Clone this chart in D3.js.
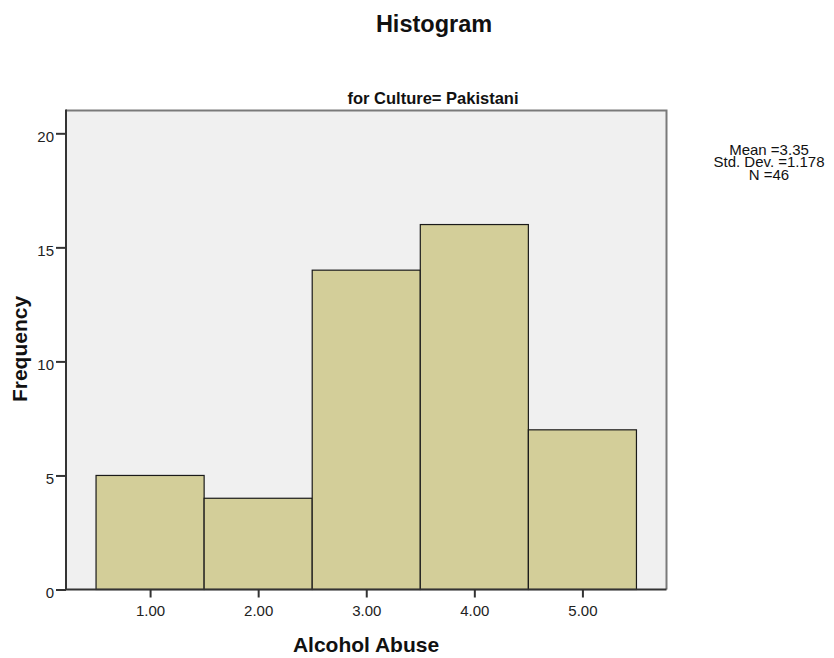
<!DOCTYPE html>
<html>
<head>
<meta charset="utf-8">
<script src="https://cdn.jsdelivr.net/npm/d3@7/dist/d3.min.js"></script>
<style>
  html, body { margin: 0; padding: 0; background: #ffffff; }
  svg { display: block; font-family: "Liberation Sans", Arial, sans-serif; }
</style>
</head>
<body>
<svg id="chart" width="834" height="658"></svg>
<script>
// Histogram of Alcohol Abuse scores, Culture = Pakistani
const binCenters = [1, 2, 3, 4, 5];
const frequencies = [5, 4, 14, 16, 7];
const xTickValues = [1, 2, 3, 4, 5];
const xTickLabels = ["1.00", "2.00", "3.00", "4.00", "5.00"];
const yTickValues = [0, 5, 10, 15, 20];
const statLines = ["Mean =3.35", "Std. Dev. =1.178", "N =46"];

const FONT = "'Liberation Sans', Arial, sans-serif";
const svg = d3.select("#chart");
const plot = { left: 66, right: 666.5, top: 110.5, bottom: 589.5 };

const x = d3.scaleLinear().domain([0.222, 5.778]).range([plot.left, plot.right]);
const y = d3.scaleLinear().domain([0, 21]).range([plot.bottom, plot.top]);

// plot background
svg.append("rect")
  .attr("x", plot.left).attr("y", plot.top)
  .attr("width", plot.right - plot.left).attr("height", plot.bottom - plot.top)
  .attr("fill", "#f0f0f0");

// bars
svg.append("g").selectAll("rect")
  .data(binCenters.map((c, i) => ({ c, f: frequencies[i] })))
  .join("rect")
  .attr("x", d => x(d.c - 0.5))
  .attr("y", d => y(d.f))
  .attr("width", d => x(d.c + 0.5) - x(d.c - 0.5))
  .attr("height", d => y(0) - y(d.f))
  .attr("fill", "#d3ce99")
  .attr("stroke", "#1a1a1a")
  .attr("stroke-width", 1.2);

// top and right frame
svg.append("path")
  .attr("d", `M${plot.left},${plot.top}H${plot.right}V${plot.bottom}`)
  .attr("fill", "none")
  .attr("stroke", "#7a7a7a")
  .attr("stroke-width", 2);

// axes
const xAxis = d3.axisBottom(x)
  .tickValues(xTickValues)
  .tickFormat((d, i) => xTickLabels[i])
  .tickSize(8);
const yAxis = d3.axisLeft(y)
  .tickValues(yTickValues)
  .tickFormat(d3.format("d"))
  .tickSize(10);

const gx = svg.append("g").attr("transform", `translate(0,${plot.bottom})`).call(xAxis);
gx.select(".domain").attr("d", `M${plot.left},0H${plot.right}`).attr("stroke", "#333").attr("stroke-width", 2);
gx.selectAll(".tick line").attr("stroke", "#333").attr("stroke-width", 2);
gx.selectAll(".tick text")
  .attr("y", 26).attr("dy", 0)
  .attr("font-size", 15).attr("fill", "#222").attr("font-family", FONT);

const gy = svg.append("g").attr("transform", `translate(${plot.left},0)`).call(yAxis);
gy.select(".domain").attr("d", `M0,${plot.bottom}V${plot.top - 1}`).attr("stroke", "#333").attr("stroke-width", 2);
gy.selectAll(".tick line").attr("stroke", "#333").attr("stroke-width", 2);
gy.selectAll(".tick text")
  .attr("x", -12).attr("y", 8).attr("dy", 0)
  .attr("font-size", 15).attr("fill", "#222").attr("font-family", FONT);

// titles
svg.append("text")
  .attr("x", 434).attr("y", 31.5)
  .attr("text-anchor", "middle")
  .attr("font-size", 23.5).attr("font-weight", "bold").attr("fill", "#111")
  .text("Histogram");

svg.append("text")
  .attr("x", 433).attr("y", 104)
  .attr("text-anchor", "middle")
  .attr("font-size", 16.5).attr("font-weight", "bold").attr("fill", "#111")
  .text("for Culture= Pakistani");

svg.append("text")
  .attr("x", 366).attr("y", 652)
  .attr("text-anchor", "middle")
  .attr("font-size", 21).attr("font-weight", "bold").attr("fill", "#111")
  .text("Alcohol Abuse");

svg.append("text")
  .attr("transform", `translate(27,349) rotate(-90)`)
  .attr("text-anchor", "middle")
  .attr("font-size", 21).attr("font-weight", "bold").attr("fill", "#111")
  .text("Frequency");

// summary statistics
svg.append("g").selectAll("text")
  .data(statLines)
  .join("text")
  .attr("x", 769).attr("y", (d, i) => 154.5 + i * 12.5)
  .attr("text-anchor", "middle")
  .attr("font-size", 15).attr("fill", "#111")
  .text(d => d);
</script>
</body>
</html>
